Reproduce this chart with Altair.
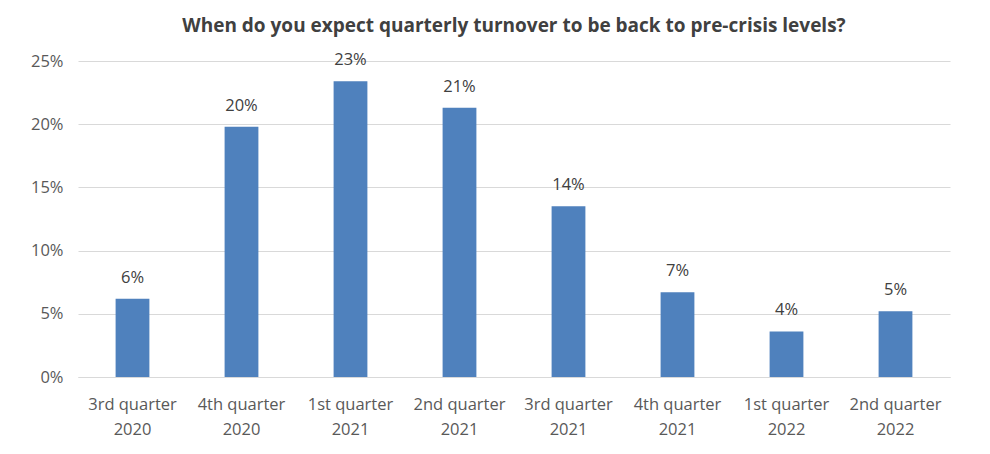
import altair as alt
import pandas as pd

quarters = ["3rd quarter|2020", "4th quarter|2020", "1st quarter|2021", "2nd quarter|2021",
            "3rd quarter|2021", "4th quarter|2021", "1st quarter|2022", "2nd quarter|2022"]
shares = [6.2, 19.8, 23.4, 21.3, 13.5, 6.7, 3.6, 5.2]
labels = ["6%", "20%", "23%", "21%", "14%", "7%", "4%", "5%"]

df = pd.DataFrame({"quarter": quarters, "share": shares, "label": labels})

FONT = "Open Sans"
FS = 16.5

x = alt.X("quarter:N", sort=quarters, title=None,
          scale=alt.Scale(paddingInner=0.69, paddingOuter=0.345),
          axis=alt.Axis(labelExpr="split(datum.label, '|')", labelAngle=0,
                        labelFontSize=FS, labelColor="#595959", labelFont=FONT,
                        labelPadding=19, labelLineHeight=25, ticks=False,
                        domainColor="#d9d9d9", domainWidth=1))
y = alt.Y("share:Q", title=None,
          scale=alt.Scale(domain=[0, 25], nice=False),
          axis=alt.Axis(values=[0, 5, 10, 15, 20, 25], labelExpr="datum.value + '%'",
                        labelFontSize=FS, labelColor="#595959", labelFont=FONT,
                        labelPadding=15, ticks=False, domain=False,
                        gridColor="#d9d9d9", gridWidth=1))

bars = alt.Chart(df).mark_bar(color="#4f81bd").encode(x=x, y=y)
text = alt.Chart(df).mark_text(baseline="bottom", dy=-13, fontSize=FS,
                               color="#404040", font=FONT).encode(
    x=alt.X("quarter:N", sort=quarters), y="share:Q", text="label:N")

chart = (bars + text).properties(
    width=872, height=316,
    padding={"left": 78, "top": 61, "right": 40, "bottom": 77},
    autosize=alt.AutoSizeParams(type="none"),
    background="white",
    title=alt.TitleParams("When do you expect quarterly turnover to be back to pre-crisis levels?",
                          fontSize=19, font=FONT, fontWeight="bold", color="#404040",
                          anchor="middle", offset=16),
).configure_view(stroke=None, strokeWidth=0)

chart.save("out.html", embed_options={"renderer": "svg", "actions": False})
